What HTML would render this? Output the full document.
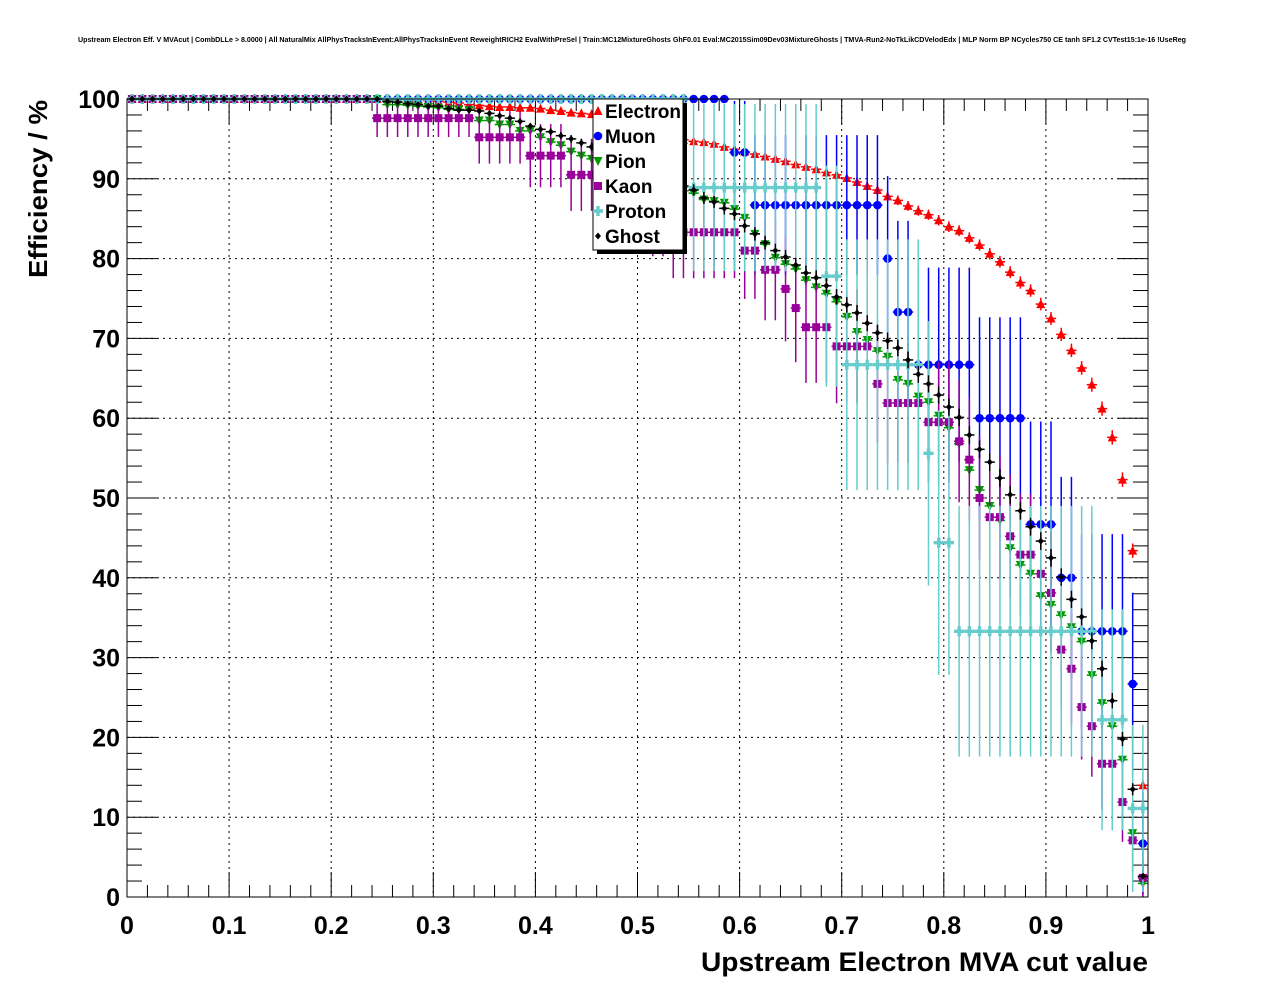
<!DOCTYPE html>
<html><head><meta charset="utf-8"><style>
html,body{margin:0;padding:0;background:#fff;}
svg{display:block;font-family:"Liberation Sans",Arial,sans-serif;}
</style></head><body>
<svg id="chart" width="1276" height="996" viewBox="0 0 1276 996" xmlns="http://www.w3.org/2000/svg">
<rect x="0" y="0" width="1276" height="996" fill="#fff"/>
<text x="78" y="42" font-size="7" font-weight="bold" textLength="1108" lengthAdjust="spacingAndGlyphs">Upstream Electron Eff. V MVAcut | CombDLLe &gt; 8.0000 | All NaturalMix AllPhysTracksInEvent:AllPhysTracksInEvent ReweightRICH2 EvalWithPreSel | Train:MC12MixtureGhosts GhF0.01 Eval:MC2015Sim09Dev03MixtureGhosts | TMVA-Run2-NoTkLikCDVelodEdx | MLP Norm BP NCycles750 CE tanh SF1.2 CVTest15:1e-16 !UseReg</text>
<g id="grid"></g>
<g id="axes"></g>
<g id="series"></g>
<rect x="127" y="99" width="1021" height="798" fill="none" stroke="#000" stroke-width="1"/>
<text x="1148" y="971" font-size="27" font-weight="bold" text-anchor="end" textLength="447" lengthAdjust="spacingAndGlyphs">Upstream Electron MVA cut value</text>
<text transform="translate(47,278) rotate(-90)" font-size="26" font-weight="bold" textLength="178" lengthAdjust="spacingAndGlyphs">Efficiency / %</text>
<g id="legend"></g>
</svg>
<script>
const binLabels = ["0","0.1","0.2","0.3","0.4","0.5","0.6","0.7","0.8","0.9","1"];
const yTickLabels = ["0","10","20","30","40","50","60","70","80","90","100"];
const nBins = 100;
const seriesNames = ["Electron","Muon","Pion","Kaon","Proton","Ghost"];
const electron = [100,100,100,100,100,100,100,100,100,100,100,100,100,100,100,100,100,100,100,100,100,100,100,100,100,100,100,100,99.9,99.8,99.7,99.6,99.5,99.3,99.2,99.1,99.0,99.0,98.9,98.9,98.8,98.6,98.5,98.3,98.2,98.1,97.8,97.5,97.1,96.8,96.5,96.1,95.7,95.3,94.9,94.7,94.6,94.4,94.0,93.7,93.4,93.1,92.8,92.5,92.2,91.8,91.5,91.2,90.8,90.5,90.1,89.6,89.1,88.6,87.8,87.3,86.6,86.0,85.5,84.8,84.0,83.5,82.6,81.7,80.6,79.6,78.3,77.0,76.0,74.3,72.5,70.5,68.5,66.3,64.2,61.2,57.6,52.3,43.4,14.0];
const muon = [100,100,100,100,100,100,100,100,100,100,100,100,100,100,100,100,100,100,100,100,100,100,100,100,100,100,100,100,100,100,100,100,100,100,100,100,100,100,100,100,100,100,100,100,100,100,100,100,100,100,100,100,100,100,100,100,100,100,100,93.3,93.3,86.7,86.7,86.7,86.7,86.7,86.7,86.7,86.7,86.7,86.7,86.7,86.7,86.7,80.0,73.3,73.3,66.7,66.7,66.7,66.7,66.7,66.7,60.0,60.0,60.0,60.0,60.0,46.7,46.7,46.7,40.0,40.0,33.3,33.3,33.3,33.3,33.3,26.7,6.7];
const pion = [100,100,100,100,100,100,100,100,100,100,100,100,100,100,100,100,100,100,100,100,100,100,100,100,100,99.3,99.3,99.2,99.1,99.0,98.9,98.7,98.7,98.6,97.3,97.3,96.8,96.8,96.0,96.0,95.2,94.6,94.2,93.4,92.9,92.5,92.0,91.5,91.0,90.5,90.0,89.6,89.2,88.8,88.5,88.2,87.4,87.2,87.0,86.2,85.1,83.1,81.8,80.1,79.3,78.7,77.3,76.4,75.6,74.6,72.7,70.8,69.8,68.4,67.7,64.8,64.3,62.7,62.0,60.3,58.8,56.8,53.5,51.0,49.0,47.2,43.7,41.6,40.5,37.7,36.6,35.3,33.8,32.0,27.8,24.3,21.4,17.2,8.0,1.7];
const kaon = [100,100,100,100,100,100,100,100,100,100,100,100,100,100,100,100,100,100,100,100,100,100,100,100,97.6,97.6,97.6,97.6,97.6,97.6,97.6,97.6,97.6,97.6,95.2,95.2,95.2,95.2,95.2,92.9,92.9,92.9,92.9,90.5,90.5,90.5,90.5,90.5,88.1,88.1,88.1,85.7,85.7,83.3,83.3,83.3,83.3,83.3,83.3,83.3,81.0,81.0,78.6,78.6,76.2,73.8,71.4,71.4,71.4,69.0,69.0,69.0,69.0,64.3,61.9,61.9,61.9,61.9,59.5,59.5,59.5,57.1,54.8,50.0,47.6,47.6,45.2,42.9,42.9,40.5,38.1,31.0,28.6,23.8,21.4,16.7,16.7,11.9,7.1,2.4];
const proton = [100,100,100,100,100,100,100,100,100,100,100,100,100,100,100,100,100,100,100,100,100,100,100,100,100,100,100,100,100,100,100,100,100,100,100,100,100,100,100,100,100,100,100,100,100,100,100,100,100,100,100,100,100,100,100,88.9,88.9,88.9,88.9,88.9,88.9,88.9,88.9,88.9,88.9,88.9,88.9,88.9,77.8,77.8,66.7,66.7,66.7,66.7,66.7,66.7,66.7,66.7,55.6,44.4,44.4,33.3,33.3,33.3,33.3,33.3,33.3,33.3,33.3,33.3,33.3,33.3,33.3,33.3,33.3,22.2,22.2,22.2,11.1,11.1];
const ghost = [100,100,100,100,100,100,100,100,100,100,100,100,100,100,100,100,100,100,100,100,100,100,100,100,100,99.7,99.6,99.4,99.3,99.1,99.1,98.8,98.6,98.6,98.5,98.2,97.9,97.6,97.2,96.6,96.2,95.9,95.4,95.0,94.5,94.0,93.5,93.0,92.5,92.0,91.5,91.0,90.3,89.7,89.1,88.6,87.6,87.1,86.3,85.6,84.1,83.1,82.0,81.0,80.2,79.2,78.2,77.6,76.6,75.2,74.2,73.2,71.9,70.7,69.7,68.8,67.3,65.5,64.3,62.9,61.4,60.1,57.9,56.1,54.5,52.5,50.4,48.4,46.4,44.6,42.5,40.1,37.3,35.1,32.1,28.6,24.6,19.8,13.5,2.6];
const sampleSizes = [3000,15,4000,42,9,2000];

const NS = "http://www.w3.org/2000/svg";
const X0 = 127, X1 = 1148, Y0 = 897, Y1 = 99;
function xScale(v){ return X0 + v*(X1-X0); }
function yScale(v){ return Y0 - v/100*(Y0-Y1); }
function mk(tag, attrs, parent){ const e=document.createElementNS(NS,tag); for(const k in attrs) e.setAttribute(k,attrs[k]); parent.appendChild(e); return e; }

const grid = document.getElementById('grid');
const axes = document.getElementById('axes');
for(let i=0;i<binLabels.length;i++){
  const v = parseFloat(binLabels[i]);
  const x = xScale(v);
  if(i>0 && i<binLabels.length-1){
    const g = mk('line',{x1:x,x2:x,y1:Y1,y2:Y0,stroke:'#000','stroke-width':1,'stroke-dasharray':'2,4'},grid);
    
    
  }
  const t = mk('text',{x:x,y:934,'font-size':25,'font-weight':'bold','text-anchor':'middle'},axes);
  t.textContent = binLabels[i];
  
  
}
for(let k=0;k<=50;k++){
  const x = xScale(k/50);
  const len = (k%5===0)?25:12;
  mk('line',{x1:x,x2:x,y1:Y0,y2:Y0-len,stroke:'#000','stroke-width':1},axes);
  mk('line',{x1:x,x2:x,y1:Y1,y2:Y1+len,stroke:'#000','stroke-width':1},axes);
}
for(let i=0;i<yTickLabels.length;i++){
  const v = parseFloat(yTickLabels[i]);
  const y = yScale(v);
  if(i>0 && i<yTickLabels.length-1){
    const g = mk('line',{x1:X0,x2:X1,y1:y,y2:y,stroke:'#000','stroke-width':1,'stroke-dasharray':'2,4'},grid);
    
    
  }
  const t = mk('text',{x:120,y:y+9,'font-size':25,'font-weight':'bold','text-anchor':'end'},axes);
  t.textContent = yTickLabels[i];
  
  
}
for(let k=0;k<=50;k++){
  const y = yScale(k*2);
  const len = (k%5===0)?30:15;
  mk('line',{x1:X0,x2:X0+len,y1:y,y2:y,stroke:'#000','stroke-width':1},axes);
  mk('line',{x1:X1,x2:X1-len,y1:y,y2:y,stroke:'#000','stroke-width':1},axes);
}

const colors = ['#ff0000','#0000ff','#009900','#990099','#66cccc','#000000'];
const allData = [electron,muon,pion,kaon,proton,ghost];

function marker(type, cx, cy, color, parent){
  let m;
  if(type===0) m = mk('polygon',{points:`${cx},${cy-5} ${cx-4.5},${cy+4} ${cx+4.5},${cy+4}`,fill:color},parent);
  else if(type===1) m = mk('circle',{cx:cx,cy:cy,r:4.3,fill:color},parent);
  else if(type===2) m = mk('polygon',{points:`${cx},${cy+5} ${cx-4.5},${cy-4} ${cx+4.5},${cy-4}`,fill:color},parent);
  else if(type===3) m = mk('rect',{x:cx-4,y:cy-4,width:8,height:8,fill:color},parent);
  else if(type===4) m = mk('path',{d:`M${cx-5},${cy-1.7}h3.3v-3.3h3.4v3.3h3.3v3.4h-3.3v3.3h-3.4v-3.3h-3.3z`,fill:color},parent);
  else m = mk('polygon',{points:`${cx},${cy-3.5} ${cx+3},${cy} ${cx},${cy+3.5} ${cx-3},${cy}`,fill:color},parent);
  return m;
}

const series = document.getElementById('series');
for(let s=0;s<allData.length;s++){
  const g = mk('g',{},series);
  
  
  const data = allData[s], N = sampleSizes[s];
  for(let i=0;i<nBins;i++){
    const v = data[i];
    const p = v/100;
    const err = 100*Math.sqrt(Math.max(p*(1-p),0)/N);
    const cx = xScale((i+0.5)/nBins);
    const cy = yScale(v);
    const xl = xScale(i/nBins), xr = xScale((i+1)/nBins);
    const yt = yScale(Math.min(100,v+err)), yb = yScale(Math.max(0,v-err));
    mk('line',{x1:xl,x2:xr,y1:cy,y2:cy,stroke:colors[s],'stroke-width':1.5},g);
    if(err>0) mk('line',{x1:cx,x2:cx,y1:yt,y2:yb,stroke:colors[s],'stroke-width':1.5},g);
    const m = marker(s,cx,cy,colors[s],g);
    
    
  }
}

const lg = document.getElementById('legend');
mk('rect',{x:597,y:103,width:90,height:151,fill:'#000'},lg);
mk('rect',{x:593,y:99,width:90,height:151,fill:'#fff',stroke:'#000','stroke-width':1},lg);
for(let s=0;s<seriesNames.length;s++){
  const y = 111 + s*25;
  const m = marker(s,598,y,colors[s],lg);
  
  
  const t = mk('text',{x:605,y:y+7,'font-size':19,'font-weight':'bold'},lg);
  t.textContent = seriesNames[s];
  
  
}
</script>
</body></html>
